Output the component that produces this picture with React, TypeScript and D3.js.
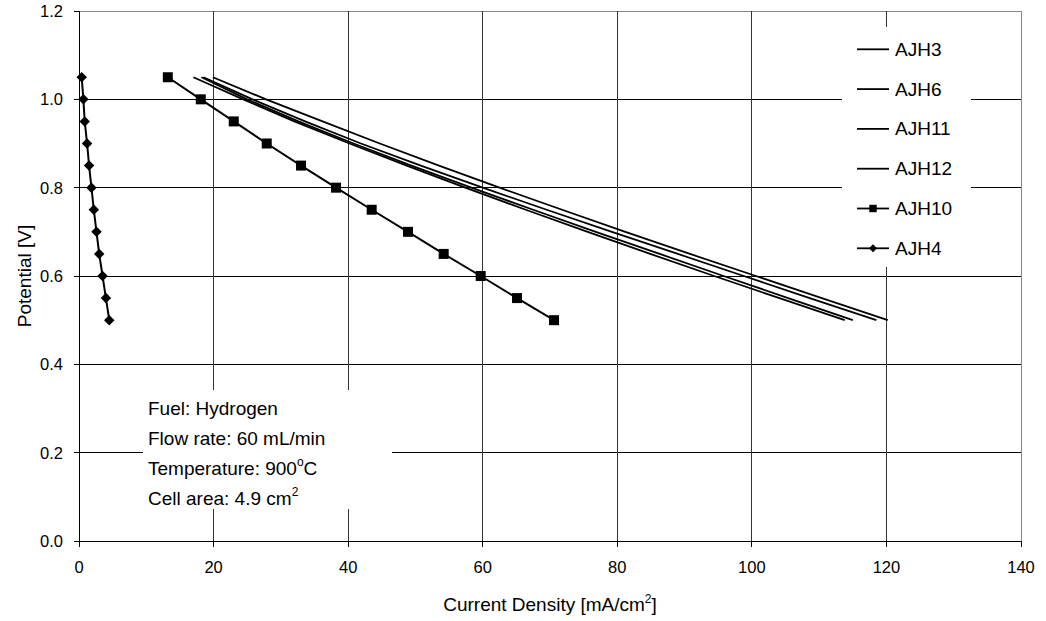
import React from "react";
import * as d3 from "d3";

// potentials shared by every curve (V)
const potentials = [1.05, 1.0, 0.95, 0.9, 0.85, 0.8, 0.75, 0.7, 0.65, 0.6, 0.55, 0.5];

// current densities (mA/cm2)
const ajh3 = [19.9, 27.8, 36.2, 44.7, 53.5, 62.5, 71.8, 81.2, 90.8, 100.6, 110.4, 120.2];
const ajh6 = [18.5, 25.8, 33.6, 41.9, 50.8, 60.0, 69.5, 79.2, 89.0, 98.8, 108.6, 118.5];
const ajh11 = [18.2, 25.0, 32.6, 40.8, 49.4, 58.3, 67.5, 76.8, 86.3, 95.8, 105.4, 115.0];
const ajh12 = [17.0, 24.4, 32.0, 40.2, 48.7, 57.4, 66.4, 75.6, 84.9, 94.4, 104.1, 113.8];
const ajh10 = [13.2, 18.1, 23.0, 27.9, 33.0, 38.2, 43.5, 48.9, 54.2, 59.7, 65.1, 70.6];
const ajh4 = [0.4, 0.65, 0.85, 1.2, 1.5, 1.85, 2.2, 2.6, 3.0, 3.5, 4.0, 4.5];

const seriesNames = ["AJH3", "AJH6", "AJH11", "AJH12", "AJH10", "AJH4"];
const seriesValues = [ajh3, ajh6, ajh11, ajh12, ajh10, ajh4];
const seriesMarkers = ["none", "none", "none", "none", "square", "diamond"];

const xTicks = [0, 20, 40, 60, 80, 100, 120, 140];
const yTicks = [0, 0.2, 0.4, 0.6, 0.8, 1.0, 1.2];

const notes = ["Fuel: Hydrogen", "Flow rate: 60 mL/min", "Temperature: 900", "Cell area: 4.9 cm"];

const W = 1046;
const H = 621;
const margin = { left: 79, right: 25, top: 11, bottom: 80 };
const font = "'Liberation Sans', Arial, sans-serif";

const App = () => {
  const x = d3.scaleLinear().domain([0, 140]).range([margin.left, W - margin.right]);
  const y = d3.scaleLinear().domain([0, 1.2]).range([H - margin.bottom, margin.top]);

  const lineGen = d3
    .line<[number, number]>()
    .x((d) => x(d[0]))
    .y((d) => y(d[1]));

  const squarePath = d3.symbol(d3.symbolSquare, 100)()!;
  const diamondPath = d3.symbol(d3.symbolSquare, 55)()!;
  const squareSmall = d3.symbol(d3.symbolSquare, 55)()!;
  const diamondSmall = d3.symbol(d3.symbolSquare, 32)()!;

  const marker = (kind: string, small: boolean) => {
    if (kind === "square") return <path d={small ? squareSmall : squarePath} fill="#000" />;
    if (kind === "diamond")
      return <path d={small ? diamondSmall : diamondPath} fill="#000" transform="rotate(45)" />;
    return null;
  };

  const x0 = x(0);
  const x1 = x(140);
  const yb = y(0);
  const yt = y(1.2);

  // legend & annotation box placement
  const legX = 842;
  const legY = 27;
  const legW = 129;
  const legH = 240;
  const noteX = 143;
  const noteY = 390;
  const noteW = 249;
  const noteH = 119;

  return (
    <svg
      width={W}
      height={H}
      style={{ position: "absolute", left: 0, top: 0, background: "#fff" }}
      fontFamily={font}
    >
      <rect width={W} height={H} fill="#fff" />
      {/* grid */}
      {yTicks.map((t) => (
        <line key={"gy" + t} x1={x0} x2={x1} y1={y(t)} y2={y(t)} stroke={t === 1.2 ? "#888" : "#000"} shapeRendering="crispEdges" />
      ))}
      {xTicks.map((t) => (
        <line key={"gx" + t} x1={x(t)} x2={x(t)} y1={yt} y2={yb} stroke={t === 140 ? "#888" : "#333"} shapeRendering="crispEdges" />
      ))}
      {/* boxes that hide the grid */}
      <rect x={legX} y={legY} width={legW} height={legH} fill="#fff" />
      <rect x={noteX} y={noteY} width={noteW} height={noteH} fill="#fff" />

      {/* axes */}
      <line x1={x0} x2={x0} y1={yt} y2={yb} stroke="#000" shapeRendering="crispEdges" />
      <line x1={x0} x2={x1} y1={yb} y2={yb} stroke="#000" shapeRendering="crispEdges" />
      {yTicks.map((t) => (
        <g key={"ty" + t}>
          <line x1={x0 - 5} x2={x0} y1={y(t)} y2={y(t)} stroke="#000" shapeRendering="crispEdges" />
          <text x={x0 - 16} y={y(t) + 6} fontSize={16.5} textAnchor="end" fill="#000">
            {t.toFixed(1)}
          </text>
        </g>
      ))}
      {xTicks.map((t) => (
        <g key={"tx" + t}>
          <line x1={x(t)} x2={x(t)} y1={yb} y2={yb + 6} stroke="#000" shapeRendering="crispEdges" />
          <text x={x(t)} y={yb + 32} fontSize={16.5} textAnchor="middle" fill="#000">
            {t}
          </text>
        </g>
      ))}

      {/* series */}
      {seriesValues.map((vals, i) => {
        const pts: [number, number][] = vals.map((v, j) => [v, potentials[j]]);
        return (
          <g key={seriesNames[i]}>
            <path d={lineGen(pts)!} fill="none" stroke="#000" strokeWidth={seriesMarkers[i] === "none" ? 1.8 : 2} />
            {seriesMarkers[i] !== "none" &&
              pts.map((p, j) => (
                <g key={j} transform={`translate(${x(p[0])},${y(p[1])})`}>
                  {marker(seriesMarkers[i], false)}
                </g>
              ))}
          </g>
        );
      })}

      {/* legend */}
      {seriesNames.map((name, i) => {
        const cy = 49.3 + i * 39.8;
        return (
          <g key={"leg" + name}>
            <line x1={857} x2={889} y1={cy} y2={cy} stroke="#000" strokeWidth={1.8} />
            <g transform={`translate(873,${cy})`}>{marker(seriesMarkers[i], true)}</g>
            <text x={895} y={cy + 6.5} fontSize={19} fill="#000">
              {name}
            </text>
          </g>
        );
      })}

      {/* annotation */}
      {notes.map((n, i) => {
        const by = 415 + i * 30;
        return (
          <text key={"n" + i} x={148} y={by} fontSize={19} fill="#000">
            {n}
            {i === 2 && (
              <>
                <tspan dy={-9} fontSize={12}>o</tspan>
                <tspan dy={9}>C</tspan>
              </>
            )}
            {i === 3 && (
              <tspan dy={-9} fontSize={12}>2</tspan>
            )}
          </text>
        );
      })}

      {/* axis titles */}
      <text x={(x0 + x1) / 2} y={611} fontSize={19} textAnchor="middle" fill="#000">
        Current Density [mA/cm<tspan dy={-8} fontSize={12}>2</tspan>
        <tspan dy={8}>]</tspan>
      </text>
      <text transform={`translate(31,${(yt + yb) / 2}) rotate(-90)`} fontSize={19} textAnchor="middle" fill="#000">
        Potential [V]
      </text>
    </svg>
  );
};

export default App;
